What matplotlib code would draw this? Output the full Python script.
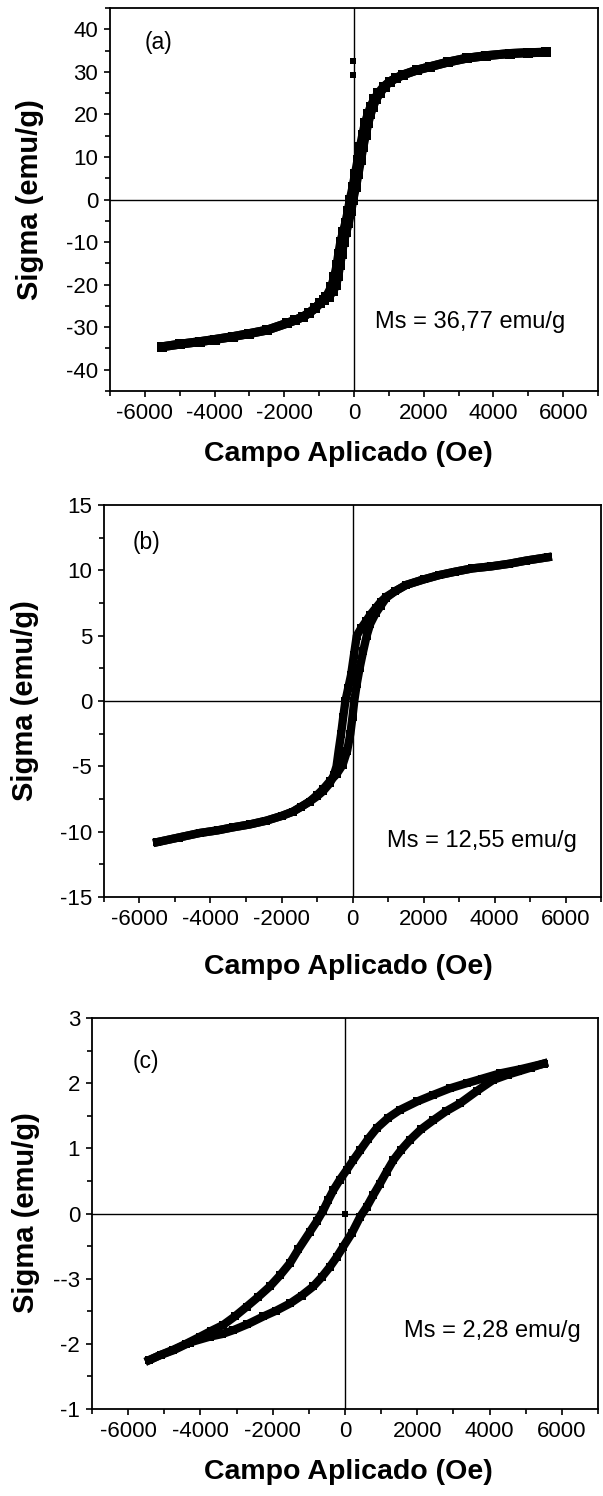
import matplotlib
matplotlib.use('Agg')
from matplotlib import pyplot as plt
from matplotlib import ticker

plt.rcParams['font.family'] = ['Liberation Sans', 'DejaVu Sans']
plt.rcParams['axes.unicode_minus'] = False

# painel (a)
H_a_down = [5500, 5000, 4470, 3800, 3230, 2700, 2180, 1800, 1410, 1200, 1030, 850, 700, 580, 480,
            400, 320, 250, 180, 110, 40, -30, -110, -170, -240, -310, -380, -440, -490, -560,
            -650, -790, -980, -1120, -1300, -1450, -1700, -1930, -2500, -3000, -3460, -4000,
            -4420, -5000, -5500]
M_a_down = [34.6, 34.5, 34.3, 33.8, 33.2, 32.3, 31.2, 30.4, 29.3, 28.5, 27.7, 26.5, 25.0, 23.5, 21.8,
            20.0, 17.9, 15.2, 12.4, 9.2, 6.1, 3.0, 0.0, -2.8, -5.5, -7.7, -9.9, -12.8, -15.5, -18.2,
            -20.6, -22.8, -24.4, -25.6, -26.7, -27.5, -28.4, -29.1, -30.7, -31.5, -32.2, -32.9,
            -33.4, -34.0, -34.6]
H_a_up = [-5500, -5000, -4420, -4000, -3460, -3000, -2500, -1930, -1700, -1450, -1300, -1120,
          -980, -850, -720, -600, -520, -460, -410, -350, -300, -230, -160, -90, -30, 50, 120,
          190, 260, 330, 400, 470, 540, 630, 740, 880, 1030, 1200, 1410, 1800, 2180, 2700, 3230,
          3800, 4470, 5000, 5500]
M_a_up = [-34.6, -34.0, -33.4, -32.9, -32.2, -31.5, -30.7, -29.1, -28.4, -27.5, -26.7, -25.6,
          -24.4, -23.6, -22.8, -21.5, -20.1, -18.0, -15.5, -12.7, -9.9, -7.7, -5.5, -2.8, 0.0, 3.0,
          6.1, 9.2, 12.4, 15.2, 17.9, 20.0, 21.8, 23.5, 25.0, 26.5, 27.7, 28.5, 29.3, 30.4, 31.2,
          32.3, 33.2, 33.8, 34.3, 34.5, 34.6]
H_a_out = [-40, -40]
M_a_out = [32.6, 29.3]

# painel (b)
H_b_down = [5500, 4900, 4410, 3900, 3380, 2900, 2450, 2000, 1510, 1200, 950, 800, 650, 500, 380,
            250, 120, 40, -40, -120, -200, -260, -320, -390, -450, -530, -640, -830, -1000,
            -1210, -1450, -1680, -2000, -2430, -2900, -3370, -3800, -4300, -4900, -5500]
M_b_down = [11.0, 10.75, 10.5, 10.3, 10.15, 9.9, 9.64, 9.3, 8.88, 8.4, 7.98, 7.6, 7.1, 6.6, 6.1,
            5.6, 5.0, 3.5, 2.0, 1.0, 0.0, -1.2, -2.5, -3.8, -5.0, -5.7, -6.3, -6.9, -7.3,
            -7.7, -8.1, -8.47, -8.8, -9.16, -9.45, -9.67, -9.9, -10.1, -10.45, -10.8]
H_b_up = [-5500, -4900, -4300, -3800, -3370, -2900, -2430, -2000, -1680, -1450, -1210, -1000,
          -830, -640, -450, -280, -150, -60, 0, 50, 120, 200, 300, 400, 500, 650, 800, 950, 1200,
          1510, 2000, 2450, 2900, 3380, 3900, 4410, 4900, 5500]
M_b_up = [-10.8, -10.45, -10.1, -9.9, -9.67, -9.45, -9.16, -8.8, -8.47, -8.1, -7.7, -7.2,
          -6.75, -6.15, -5.6, -4.9, -3.8, -2.5, -1.2, 0.0, 1.3, 2.5, 3.8, 5.0, 5.9, 6.7, 7.3, 7.9,
          8.4, 8.88, 9.3, 9.64, 9.9, 10.15, 10.3, 10.5, 10.75, 11.0]

# painel (c)
H_c_down = [5500, 4900, 4290, 3800, 3370, 2900, 2440, 2000, 1520, 1200, 880, 650, 420, 230, 50,
            -140, -320, -460, -600, -780, -970, -1290, -1520, -1800, -2080, -2400, -2720, -3050,
            -3370, -3700, -4010, -4400, -4750, -5100, -5420]
M_c_down = [2.30, 2.22, 2.15, 2.07, 2.00, 1.92, 1.82, 1.72, 1.59, 1.47, 1.31, 1.15, 0.97, 0.82, 0.67,
            0.52, 0.36, 0.21, 0.05, -0.12, -0.28, -0.55, -0.76, -0.95, -1.12, -1.28, -1.43, -1.58,
            -1.71, -1.80, -1.89, -2.00, -2.09, -2.17, -2.25]
H_c_up = [-5420, -5100, -4750, -4300, -3740, -3400, -3090, -2700, -2260, -1900, -1520, -1200,
          -880, -650, -420, -230, -50, 190, 420, 600, 780, 970, 1150, 1340, 1560, 1800, 2100,
          2440, 2800, 3180, 3650, 4100, 4500, 4800, 5150, 5500]
M_c_up = [-2.25, -2.17, -2.10, -1.98, -1.89, -1.85, -1.79, -1.70, -1.58, -1.49, -1.38, -1.26,
          -1.12, -0.98, -0.82, -0.67, -0.51, -0.30, -0.05, 0.10, 0.28, 0.46, 0.64, 0.82, 0.98,
          1.13, 1.29, 1.43, 1.57, 1.69, 1.88, 2.05, 2.13, 2.18, 2.24, 2.30]
H_c_out = [0]
M_c_out = [0.0]

x_ticks = [-6000, -4000, -2000, 0, 2000, 4000, 6000]
y_ticks_c = [3, 2, 1, 0, -1, -2, -3]
y_labels_c = ['3', '2', '1', '0', '--3', '-2', '-1']

W, H = 603, 1496
fig = plt.figure(figsize=(W / 100, H / 100), dpi=100)


def px_axes(left, right, top, bottom):
    return fig.add_axes([left / W, 1 - bottom / H, (right - left) / W, (bottom - top) / H])


def style(ax, ylim, ymaj, ymin):
    ax.set_xlim(-7000, 7000)
    ax.set_ylim(*ylim)
    ax.xaxis.set_major_locator(ticker.FixedLocator(x_ticks))
    ax.xaxis.set_minor_locator(ticker.MultipleLocator(1000))
    ax.yaxis.set_major_locator(ticker.MultipleLocator(ymaj))
    ax.yaxis.set_minor_locator(ticker.MultipleLocator(ymin))
    ax.tick_params(which='both', direction='out', labelsize=16, width=1.2, pad=4)
    ax.tick_params(which='major', length=4.5)
    ax.tick_params(which='minor', length=3.5)
    for s in ax.spines.values():
        s.set_linewidth(1.3)
    ax.axhline(0, color='black', lw=1.0, zorder=1)
    ax.axvline(0, color='black', lw=1.0, zorder=1)


def curve(ax, h, m, lw):
    ax.plot(h, m, '-', color='black', lw=lw, marker='s', ms=lw, mew=0,
            solid_joinstyle='round', zorder=3)


# (a)
ax1 = px_axes(110, 598, 8, 391)
style(ax1, (-45, 45), 10, 5)
curve(ax1, H_a_down, M_a_down, 6.5)
curve(ax1, H_a_up, M_a_up, 6.5)
ax1.plot(H_a_out, M_a_out, 's', color='black', ms=5, mew=0)
ax1.text(-5600, 37, '(a)', fontsize=16.5, ha='center', va='center')
ax1.text(600, -28.8, 'Ms = 36,77 emu/g', fontsize=17, ha='left', va='center')

# (b)
ax2 = px_axes(104, 601, 505, 897)
style(ax2, (-15, 15), 5, 2.5)
curve(ax2, H_b_down, M_b_down, 6)
curve(ax2, H_b_up, M_b_up, 6)
ax2.text(-5790, 12.1, '(b)', fontsize=16.5, ha='center', va='center')
ax2.text(980, -10.7, 'Ms = 12,55 emu/g', fontsize=17, ha='left', va='center')

# (c)
ax3 = px_axes(92, 598, 1018, 1409)
style(ax3, (-3, 3), 1, 0.5)
ax3.yaxis.set_major_locator(ticker.FixedLocator(y_ticks_c))
ax3.set_yticklabels(y_labels_c)
curve(ax3, H_c_down, M_c_down, 6)
curve(ax3, H_c_up, M_c_up, 6)
ax3.plot(H_c_out, M_c_out, 's', color='black', ms=5, mew=0)
ax3.text(-5520, 2.34, '(c)', fontsize=16.5, ha='center', va='center')
ax3.text(1630, -1.80, 'Ms = 2,28 emu/g', fontsize=17, ha='left', va='center')

# rotulos dos eixos
for yc, xc in [(200, 30), (701, 25), (1213, 26)]:
    fig.text(xc / W, 1 - yc / H, 'Sigma (emu/g)', rotation=90, fontsize=21,
             fontweight='bold', ha='center', va='center')
for yc in [454, 967, 1472]:
    fig.text(348 / W, 1 - yc / H, 'Campo Aplicado (Oe)', fontsize=20.5,
             fontweight='bold', ha='center', va='center')

fig.savefig('out.png', dpi=100, facecolor='white')
